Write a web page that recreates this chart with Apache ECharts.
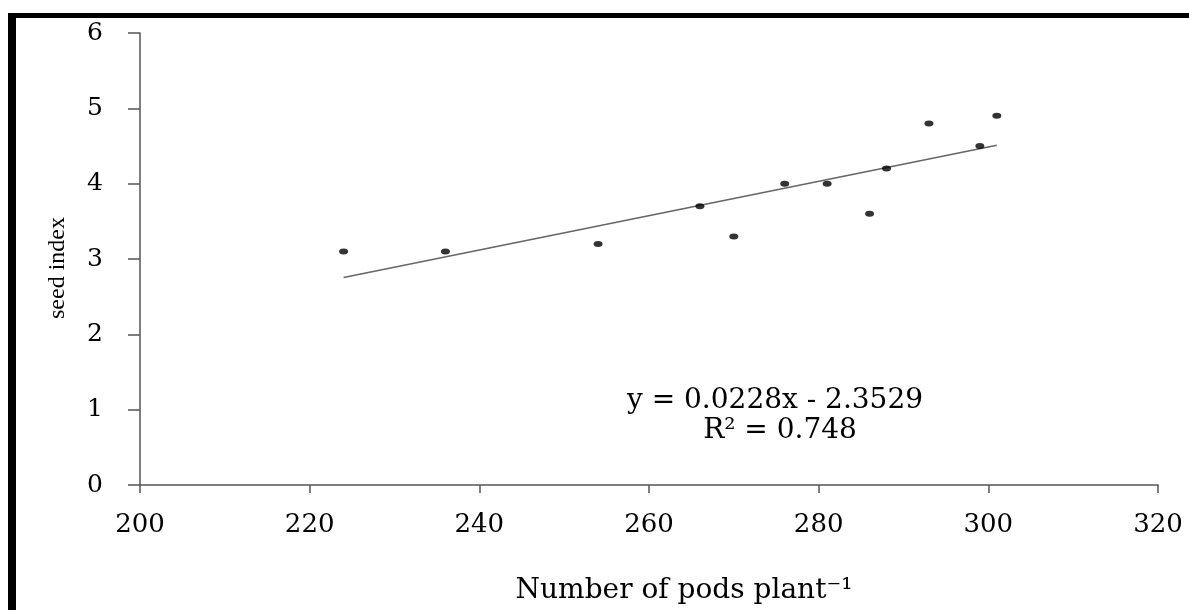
<!DOCTYPE html>
<html>
<head>
<meta charset="utf-8">
<script src="https://cdn.jsdelivr.net/npm/echarts@6/dist/echarts.min.js"></script>
<style>
html,body{margin:0;padding:0;background:#fff;}
#chart{width:1189px;height:610px;}
</style>
</head>
<body>
<div id="chart"></div>
<script>
// Data
const podsPerPlant = [224, 236, 254, 266, 270, 276, 281, 286, 288, 293, 299, 301];
const seedIndex    = [3.1, 3.1, 3.2, 3.7, 3.3, 4.0, 4.0, 3.6, 4.2, 4.8, 4.5, 4.9];
const trendSlope = 0.0228;
const trendIntercept = -2.3529;
const rSquared = 0.748;
const xAxisRange = [200, 320, 20];
const yAxisRange = [0, 6, 1];
const xTitle = 'Number of pods plant\u207B\u00B9';
const yTitle = 'seed index';

const points = podsPerPlant.map((x, i) => [x, seedIndex[i]]);
const xMin = Math.min(...podsPerPlant), xMax = Math.max(...podsPerPlant);
const trendLine = [xMin, xMax].map(x => [x, trendSlope * x + trendIntercept]);
const eqLine1 = 'y = ' + trendSlope.toFixed(4) + 'x - ' + Math.abs(trendIntercept).toFixed(4);
const eqLine2 = 'R\u00B2 = ' + rSquared;

const serif = '"DejaVu Serif", "Liberation Serif", serif';
const chart = echarts.init(document.getElementById('chart'), null, {renderer: 'canvas'});
chart.setOption({
  animation: false,
  backgroundColor: '#fff',
  grid: {left: 140, right: 31, top: 33, bottom: 122, containLabel: false},
  xAxis: {
    type: 'value', min: xAxisRange[0], max: xAxisRange[1], interval: xAxisRange[2],
    name: xTitle, nameLocation: 'middle', nameGap: 92,
    nameTextStyle: {fontFamily: serif, fontSize: 28, color: '#000', padding: [0, 0, 0, 70]},
    axisLine: {show: true, onZero: false, lineStyle: {color: '#555', width: 1.5}},
    axisTick: {show: true, inside: false, length: 8, lineStyle: {color: '#555', width: 1.5}},
    axisLabel: {fontFamily: serif, fontSize: 26, color: '#000', margin: 27},
    splitLine: {show: false}
  },
  yAxis: {
    type: 'value', min: yAxisRange[0], max: yAxisRange[1], interval: yAxisRange[2],
    name: yTitle, nameLocation: 'middle', nameGap: 70, nameRotate: 90,
    nameTextStyle: {fontFamily: '"Liberation Serif", serif', fontSize: 24, color: '#000', padding: [0, 18, 0, 0]},
    axisLine: {show: true, lineStyle: {color: '#555', width: 1.5}},
    axisTick: {show: true, inside: false, length: 12, lineStyle: {color: '#555', width: 1.5}},
    axisLabel: {fontFamily: serif, fontSize: 25, color: '#000', margin: 37},
    splitLine: {show: false}
  },
  series: [
    {
      type: 'line', data: trendLine, showSymbol: false, symbol: 'none',
      lineStyle: {color: '#666', width: 1.6}, z: 2, silent: true
    },
    {
      type: 'scatter', data: points, symbol: 'circle', symbolSize: [9, 6],
      itemStyle: {color: '#000'}, z: 3
    }
  ],
  graphic: [
    {type: 'rect', shape: {x: 8, y: 13, width: 1181, height: 5}, style: {fill: '#000'}},
    {type: 'rect', shape: {x: 8, y: 13, width: 8, height: 597}, style: {fill: '#000'}},
    {type: 'text', x: 775, y: 401, style: {text: eqLine1, font: '28px ' + serif, fill: '#000', align: 'center', verticalAlign: 'middle'}},
    {type: 'text', x: 780, y: 431, style: {text: eqLine2, font: '28px ' + serif, fill: '#000', align: 'center', verticalAlign: 'middle'}}
  ]
});
</script>
</body>
</html>
